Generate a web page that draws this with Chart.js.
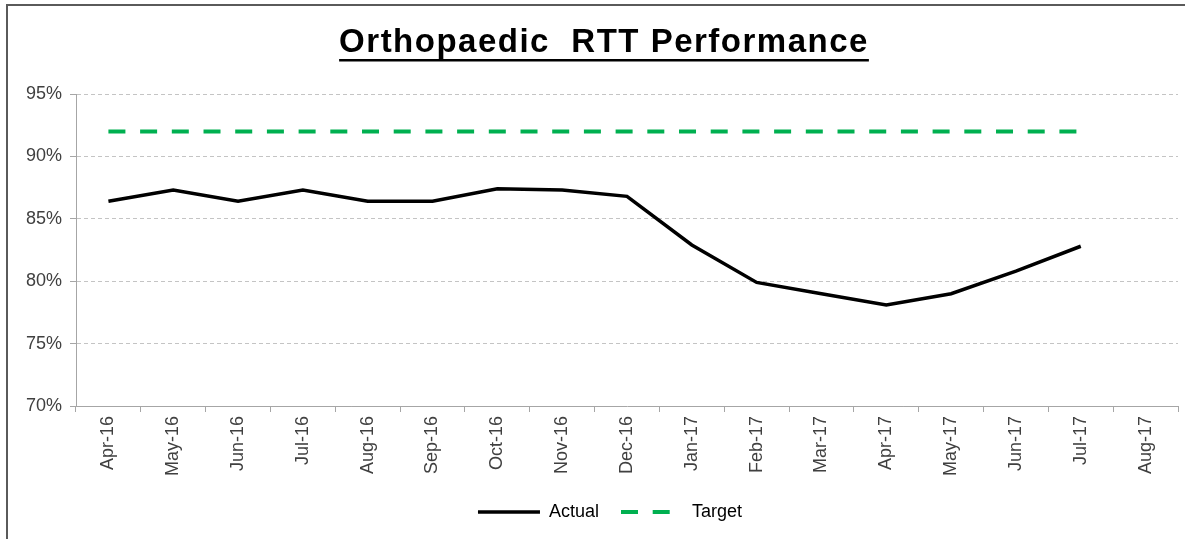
<!DOCTYPE html>
<html>
<head>
<meta charset="utf-8">
<script src="https://cdn.jsdelivr.net/npm/chart.js@4.4.1/dist/chart.umd.min.js"></script>
<style>
  html, body { margin: 0; padding: 0; background: #fff; }
  #wrap { position: relative; width: 1185px; height: 539px; overflow: hidden; }
  #frame { position: absolute; left: 6px; top: 4px; width: 1300px; height: 700px;
           border-left: 2px solid #5a5a5a; border-top: 2px solid #5a5a5a; pointer-events: none; }
  canvas { position: absolute; left: 0; top: 0; }
</style>
</head>
<body>
<div id="wrap">
  <canvas id="rttChart" width="1185" height="539"></canvas>
  <div id="frame"></div>
</div>
<script>
// Dados
const meses = ['Apr-16','May-16','Jun-16','Jul-16','Aug-16','Sep-16','Oct-16','Nov-16',
               'Dec-16','Jan-17','Feb-17','Mar-17','Apr-17','May-17','Jun-17','Jul-17','Aug-17'];
const actual = [86.4, 87.3, 86.4, 87.3, 86.4, 86.4, 87.4, 87.3,
                86.8, 82.9, 79.9, 79.0, 78.1, 79.0, 80.8, 82.8, null];
const target = [92, 92, 92, 92, 92, 92, 92, 92,
                92, 92, 92, 92, 92, 92, 92, 92, null];
const yTicks = [70, 75, 80, 85, 90, 95];
const titulo = 'Orthopaedic  RTT Performance';

const fonte = "'Liberation Sans', Arial, sans-serif";

// título sublinhado (o plugin de título do Chart.js não sublinha)
const tituloPlugin = {
    id: 'tituloSublinhado',
    afterLayout(chart){
        // empurra a legenda um pouco para a direita, como no original
        if(chart.legend){ chart.legend.left += 9; chart.legend.right += 9; }
    },
    afterDraw(chart){
        const ctx = chart.ctx;
        ctx.save();
        ctx.font = 'bold 33px ' + fonte;
        ctx.letterSpacing = '1.5px';
        ctx.fillStyle = '#000';
        ctx.textAlign = 'center';
        ctx.textBaseline = 'alphabetic';
        const cx = 604;
        ctx.fillText(titulo, cx, 52);
        const w = ctx.measureText(titulo).width;
        ctx.fillRect(cx - w/2, 59, w, 2.5);
        ctx.restore();
    }
};

// legenda com traço igual ao da linha
function legendaItens(chart){
    return chart.data.datasets.map((ds, i) => ({
        text: ds.label,
        strokeStyle: ds.borderColor,
        fillStyle: ds.borderColor,
        lineWidth: ds.borderWidth,
        lineDash: ds.borderDash || [],
        lineCap: 'butt',
        pointStyle: 'line',
        hidden: false,
        datasetIndex: i
    }));
}

const ctx = document.getElementById('rttChart').getContext('2d');
new Chart(ctx, {
    type: 'line',
    data: {
        labels: meses,
        datasets: [
            { label: 'Actual', data: actual, borderColor: '#000', backgroundColor: '#000',
              borderWidth: 3.5, pointRadius: 0, tension: 0, fill: false },
            { label: 'Target', data: target, borderColor: '#00b050', backgroundColor: '#00b050',
              borderWidth: 4, borderDash: [17, 14.7], pointRadius: 0, tension: 0, fill: false }
        ]
    },
    options: {
        responsive: false,
        animation: false,
        layout: { padding: { top: 94, right: 7, left: 24, bottom: 8 } },
        plugins: {
            title: { display: false },
            tooltip: { enabled: false },
            legend: {
                display: true,
                position: 'bottom',
                labels: {
                    usePointStyle: true,
                    pointStyle: 'line',
                    pointStyleWidth: 62,
                    color: '#000',
                    padding: 22,
                    font: { family: fonte, size: 18 },
                    generateLabels: legendaItens
                }
            }
        },
        scales: {
            x: {
                offset: true,
                grid: { drawOnChartArea: false, drawTicks: true, tickLength: 6, offset: true, color: '#a6a6a6' },
                border: { color: '#a6a6a6', width: 1 },
                ticks: { autoSkip: false, minRotation: 90, maxRotation: 90, padding: 4,
                         color: '#404040', font: { family: fonte, size: 18 } },
                afterFit(s){ s.height = 75; }
            },
            y: {
                min: 70, max: 95,
                afterBuildTicks(s){ s.ticks = yTicks.map(v => ({ value: v })); },
                grid: { color: '#c4c4c4', tickLength: 6, tickColor: '#a6a6a6', tickBorderDash: [] },
                border: { color: '#a6a6a6', width: 1, dash: [4, 3] },
                ticks: { padding: 8, color: '#404040', font: { family: fonte, size: 18 },
                         callback: v => v + '%' },
                afterFit(s){ s.width = 52; }
            }
        }
    },
    plugins: [tituloPlugin]
});
</script>
</body>
</html>
